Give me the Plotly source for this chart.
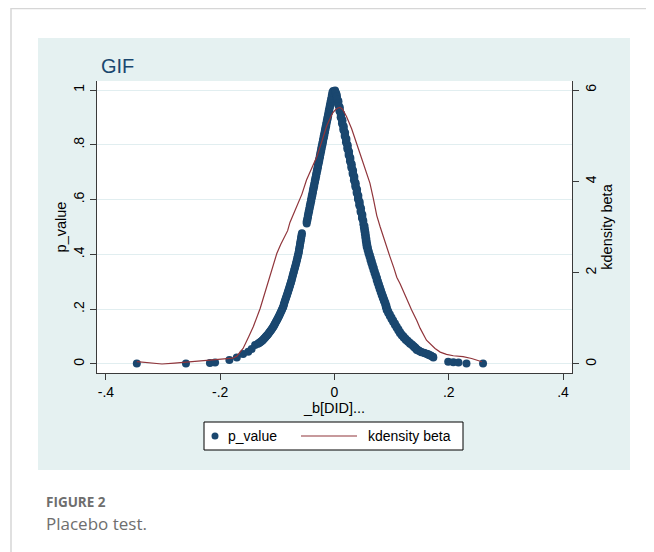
import plotly.graph_objects as go

# ---------------- data ----------------
left_tail_b = [-0.346, -0.260, -0.218, -0.209, -0.184, -0.171, -0.160, -0.151, -0.145, -0.139]
left_tail_p = [0.002, 0.002, 0.004, 0.005, 0.015, 0.024, 0.036, 0.045, 0.055, 0.069]

left_band_b = [-0.1340, -0.1310, -0.1278, -0.1252, -0.1226, -0.1200, -0.1174, -0.1148, -0.1122,
               -0.1096, -0.1070, -0.1050, -0.1028, -0.1006, -0.0984, -0.0962, -0.0940, -0.0918,
               -0.0896, -0.0884, -0.0868, -0.0850, -0.0832, -0.0815, -0.0798, -0.0782, -0.0766,
               -0.0750, -0.0735, -0.0720, -0.0704, -0.0688, -0.0672, -0.0658, -0.0644, -0.0630,
               -0.0620, -0.0610, -0.0600, -0.0590, -0.0580, -0.0570]
left_band_p = [0.074, 0.078, 0.083, 0.088, 0.094, 0.100, 0.106, 0.113, 0.120,
               0.128, 0.136, 0.144, 0.152, 0.161, 0.170, 0.179, 0.189, 0.199,
               0.209, 0.219, 0.230, 0.241, 0.252, 0.263, 0.274, 0.285, 0.296,
               0.307, 0.319, 0.331, 0.343, 0.355, 0.368, 0.380, 0.392, 0.404,
               0.416, 0.428, 0.441, 0.453, 0.465, 0.477]
left_band2_b = [-0.1325, -0.1294, -0.1265, -0.1239, -0.1213, -0.1187, -0.1161, -0.1135, -0.1109,
                -0.1083, -0.1060, -0.1039, -0.1017, -0.0995, -0.0973, -0.0951, -0.0929, -0.0907,
                -0.0890, -0.0876, -0.0859, -0.0841, -0.0824, -0.0807, -0.0790, -0.0774, -0.0758,
                -0.0743, -0.0728, -0.0712, -0.0696, -0.0680, -0.0665, -0.0651, -0.0637, -0.0625,
                -0.0615, -0.0605, -0.0595, -0.0585, -0.0575]
left_band2_p = [0.076, 0.0805, 0.0855, 0.091, 0.097, 0.103, 0.1095, 0.1165, 0.124,
                0.132, 0.140, 0.148, 0.1565, 0.1655, 0.1745, 0.184, 0.194, 0.204,
                0.214, 0.2245, 0.2355, 0.2465, 0.2575, 0.2685, 0.2795, 0.2905, 0.3015,
                0.313, 0.325, 0.337, 0.349, 0.3615, 0.374, 0.386, 0.398, 0.410,
                0.422, 0.4345, 0.447, 0.459, 0.471]

left_top_b = [-0.0486, -0.0475, -0.0464, -0.0453, -0.0442, -0.0431, -0.0420, -0.0408, -0.0398,
              -0.0386, -0.0376, -0.0364, -0.0354, -0.0342, -0.0332, -0.0320, -0.0310, -0.0298,
              -0.0288, -0.0276, -0.0266, -0.0254, -0.0244, -0.0232, -0.0222, -0.0210, -0.0200,
              -0.0188, -0.0178, -0.0166, -0.0156, -0.0144, -0.0134, -0.0122, -0.0112, -0.0100,
              -0.0090, -0.0078, -0.0068, -0.0056, -0.0046, -0.0034, -0.0023]
left_top_p = [0.513, 0.525, 0.536, 0.548, 0.559, 0.571, 0.582, 0.594, 0.605,
              0.617, 0.628, 0.640, 0.651, 0.663, 0.674, 0.686, 0.697, 0.709,
              0.720, 0.732, 0.743, 0.755, 0.766, 0.778, 0.789, 0.801, 0.812,
              0.824, 0.835, 0.847, 0.858, 0.870, 0.881, 0.893, 0.904, 0.916,
              0.927, 0.939, 0.950, 0.962, 0.973, 0.985, 0.996]
left_top2_b = [-0.0488, -0.0477, -0.0466, -0.0455, -0.0444, -0.0433, -0.0422, -0.0411, -0.0400,
               -0.0389, -0.0378, -0.0367, -0.0356, -0.0345, -0.0334, -0.0323, -0.0312, -0.0301,
               -0.0290, -0.0279, -0.0268, -0.0257, -0.0246, -0.0235, -0.0224, -0.0213, -0.0202,
               -0.0191, -0.0180, -0.0169, -0.0158, -0.0147, -0.0136, -0.0125, -0.0114, -0.0103,
               -0.0092, -0.0081, -0.0070, -0.0059, -0.0048, -0.0037]
left_top2_p = [0.519, 0.5305, 0.542, 0.5535, 0.565, 0.5765, 0.588, 0.5995, 0.611,
               0.6225, 0.634, 0.6455, 0.657, 0.6685, 0.680, 0.6915, 0.703, 0.7145,
               0.726, 0.7375, 0.749, 0.7605, 0.772, 0.7835, 0.795, 0.8065, 0.818,
               0.8295, 0.841, 0.8525, 0.864, 0.8755, 0.887, 0.8985, 0.910, 0.9215,
               0.933, 0.9445, 0.956, 0.9675, 0.979, 0.9905]

right_top_b = [0.0010, 0.0015, 0.0036, 0.0038, 0.0069, 0.0062, 0.0093, 0.0085, 0.0116, 0.0108,
               0.0139, 0.0131, 0.0162, 0.0154, 0.0186, 0.0178, 0.0209, 0.0201, 0.0232, 0.0224,
               0.0255, 0.0247, 0.0278, 0.0271, 0.0302, 0.0294, 0.0325, 0.0317, 0.0348, 0.0340,
               0.0371, 0.0364, 0.0395, 0.0387, 0.0418, 0.0410, 0.0441, 0.0433, 0.0464, 0.0456,
               0.0488, 0.0480, 0.0505]
right_top_p = [0.998, 0.993, 0.982, 0.970, 0.959, 0.947, 0.936, 0.924, 0.913, 0.901,
               0.890, 0.878, 0.867, 0.855, 0.844, 0.832, 0.821, 0.809, 0.798, 0.786,
               0.775, 0.763, 0.752, 0.740, 0.729, 0.717, 0.706, 0.694, 0.683, 0.671,
               0.660, 0.648, 0.637, 0.625, 0.614, 0.602, 0.591, 0.579, 0.568, 0.556,
               0.545, 0.533, 0.522]
right_top2_b = [0.0031, 0.0042, 0.0054, 0.0065, 0.0077, 0.0089, 0.0100, 0.0112, 0.0124, 0.0135,
                0.0147, 0.0158, 0.0170, 0.0182, 0.0193, 0.0205, 0.0216, 0.0228, 0.0240, 0.0251,
                0.0263, 0.0275, 0.0286, 0.0298, 0.0309, 0.0321, 0.0333, 0.0344, 0.0356, 0.0367,
                0.0379, 0.0391, 0.0402, 0.0414, 0.0425, 0.0437, 0.0449, 0.0460, 0.0472, 0.0484,
                0.0495]
right_top2_p = [0.9875, 0.976, 0.9645, 0.953, 0.9415, 0.930, 0.9185, 0.907, 0.8955, 0.884,
                0.8725, 0.861, 0.8495, 0.838, 0.8265, 0.815, 0.8035, 0.792, 0.7805, 0.769,
                0.7575, 0.746, 0.7345, 0.723, 0.7115, 0.700, 0.6885, 0.677, 0.6655, 0.654,
                0.6425, 0.631, 0.6195, 0.608, 0.5965, 0.585, 0.5735, 0.562, 0.5505, 0.539,
                0.5275]

right_band_b = [0.0505, 0.0514, 0.0522, 0.0531, 0.0539, 0.0547, 0.0555, 0.0563, 0.0579, 0.0595,
                0.0612, 0.0629, 0.0646, 0.0664, 0.0682, 0.0700, 0.0719, 0.0738, 0.0755, 0.0773,
                0.0790, 0.0808, 0.0826, 0.0845, 0.0864, 0.0885, 0.0898, 0.0913, 0.0940, 0.0968,
                0.0997, 0.1027, 0.1058, 0.1088, 0.1117, 0.1146, 0.1178, 0.1212, 0.1248, 0.1285,
                0.1322, 0.1360, 0.1390, 0.1415, 0.1440, 0.1480, 0.1520, 0.1580, 0.1620, 0.1650,
                0.1690, 0.1730]
right_band_p = [0.510, 0.498, 0.486, 0.474, 0.462, 0.450, 0.439, 0.428, 0.416, 0.404,
                0.392, 0.380, 0.368, 0.356, 0.344, 0.332, 0.320, 0.307, 0.296, 0.285,
                0.274, 0.263, 0.252, 0.241, 0.230, 0.219, 0.208, 0.197, 0.186, 0.175,
                0.164, 0.153, 0.142, 0.132, 0.122, 0.112, 0.104, 0.096, 0.088, 0.081,
                0.074, 0.068, 0.062, 0.057, 0.051, 0.047, 0.043, 0.039, 0.036, 0.033,
                0.029, 0.024]
right_band2_b = [0.0525, 0.0533, 0.0542, 0.0550, 0.0558, 0.0566, 0.0574, 0.0586, 0.0602, 0.0619,
                 0.0636, 0.0653, 0.0670, 0.0688, 0.0706, 0.0725, 0.0744, 0.0762, 0.0779, 0.0797,
                 0.0814, 0.0832, 0.0851, 0.0870, 0.0890, 0.0907, 0.0921, 0.0942, 0.0969, 0.0998,
                 0.1027, 0.1058, 0.1088, 0.1118, 0.1147, 0.1177, 0.1210, 0.1245, 0.1282, 0.1319,
                 0.1356, 0.1390, 0.1418, 0.1443, 0.1475, 0.1515, 0.1565, 0.1615, 0.1650, 0.1685,
                 0.1725]
right_band2_p = [0.504, 0.492, 0.480, 0.468, 0.456, 0.4445, 0.4335, 0.422, 0.410, 0.398,
                 0.386, 0.374, 0.362, 0.350, 0.338, 0.326, 0.3135, 0.3015, 0.2905, 0.2795,
                 0.2685, 0.2575, 0.2465, 0.2355, 0.2245, 0.2135, 0.2025, 0.1915, 0.1805, 0.1695,
                 0.1585, 0.1475, 0.137, 0.127, 0.117, 0.108, 0.100, 0.092, 0.0845, 0.0775,
                 0.071, 0.065, 0.0595, 0.054, 0.049, 0.045, 0.041, 0.0375, 0.0345, 0.031,
                 0.0265]

right_tail_b = [0.199, 0.208, 0.217, 0.231, 0.260]
right_tail_p = [0.008, 0.006, 0.005, 0.002, 0.002]

kd_x = [-0.346, -0.325, -0.302, -0.280, -0.260, -0.235, -0.212, -0.190, -0.178, -0.171, -0.165,
        -0.160, -0.150, -0.142, -0.130, -0.119, -0.110, -0.101, -0.094, -0.088, -0.082, -0.078,
        -0.072, -0.066, -0.057, -0.049, -0.040, -0.031, -0.022, -0.014, -0.007, -0.003, 0.001,
        0.005, 0.0096, 0.014, 0.021, 0.030, 0.0446, 0.053, 0.062, 0.068, 0.074, 0.080, 0.091,
        0.097, 0.104, 0.109, 0.115, 0.120, 0.126, 0.135, 0.144, 0.150, 0.161, 0.167, 0.176,
        0.185, 0.196, 0.208, 0.225, 0.240, 0.258]
kd_y = [0.05, 0.02, 0.00, 0.02, 0.04, 0.06, 0.08, 0.11, 0.13, 0.17, 0.25,
        0.34, 0.60, 0.82, 1.22, 1.69, 2.05, 2.42, 2.62, 2.76, 2.92, 3.10,
        3.28, 3.44, 3.72, 4.03, 4.28, 4.54, 4.88, 5.20, 5.40, 5.50, 5.56,
        5.60, 5.62, 5.58, 5.42, 5.15, 4.61, 4.30, 3.96, 3.62, 3.25, 3.00, 2.55,
        2.35, 2.10, 1.90, 1.75, 1.60, 1.42, 1.18, 0.95, 0.78, 0.52, 0.45, 0.34,
        0.26, 0.21, 0.18, 0.16, 0.12, 0.05]

x_ticks = [-0.4, -0.2, 0, 0.2, 0.4]
x_labels = ["-.4", "-.2", "0", ".2", ".4"]
y_ticks = [0, 0.2, 0.4, 0.6, 0.8, 1]
y_labels = ["0", ".2", ".4", ".6", ".8", "1"]
y2_ticks = [0, 2, 4, 6]
y2_labels = ["0", "2", "4", "6"]

# ---------------- styling ----------------
NAVY = "#1a476f"
MAROON = "#90353b"
PANEL = "#e5f1f1"
GRID = "#e1eef0"
AXIS = "#3a3a3a"
FONT = "Liberation Sans, Arial, sans-serif"
CAPFONT = "Open Sans, sans-serif"

OFF = 8                      # page body margin in the browser
SW, SH = 654, 552            # screen size
W, H = SW - OFF, SH - OFF    # figure size
L, R, T, B = 97, 572, 81, 373   # plot area in screen pixels
pw, ph = R - L, B - T


def px(x):
    return (x - L) / pw


def py(y):
    return (B - y) / ph


beta = (left_tail_b + left_band_b + left_band2_b + left_top_b + left_top2_b
        + right_top_b + right_top2_b + right_band_b + right_band2_b + right_tail_b)
pval = (left_tail_p + left_band_p + left_band2_p + left_top_p + left_top2_p
        + right_top_p + right_top2_p + right_band_p + right_band2_p + right_tail_p)

fig = go.Figure()
fig.add_trace(go.Scatter(x=beta, y=pval, mode="markers", name="p_value",
                         marker=dict(color=NAVY, size=8, line=dict(width=0)),
                         showlegend=False))
fig.add_trace(go.Scatter(x=kd_x, y=kd_y, mode="lines", name="kdensity beta", yaxis="y2",
                         line=dict(color=MAROON, width=1.2), showlegend=False))

shapes = [
    # outer page border
    dict(type="line", xref="paper", yref="paper", x0=px(11), x1=px(654), y0=py(8.5), y1=py(8.5),
         line=dict(color="#d6d6d6", width=1.5), layer="below"),
    dict(type="line", xref="paper", yref="paper", x0=px(11), x1=px(11), y0=py(8), y1=py(552),
         line=dict(color="#d6d6d6", width=1.5), layer="below"),
    # graph region
    dict(type="rect", xref="paper", yref="paper", x0=px(38), x1=px(630), y0=py(470), y1=py(38),
         fillcolor=PANEL, line=dict(width=0), layer="below"),
    # plot region
    dict(type="rect", xref="paper", yref="paper", x0=0, x1=1, y0=0, y1=1,
         fillcolor="white", line=dict(width=0), layer="below"),
    # legend box
    dict(type="rect", xref="paper", yref="paper", x0=px(204), x1=px(463), y0=py(450), y1=py(422),
         fillcolor="white", line=dict(color="black", width=1)),
    # legend marker
    dict(type="circle", xref="paper", yref="paper", x0=px(211.5), x1=px(218.5),
         y0=py(439.5), y1=py(432.5), fillcolor=NAVY, line=dict(width=0)),
    # legend line
    dict(type="line", xref="paper", yref="paper", x0=px(301), x1=px(357), y0=py(436), y1=py(436),
         line=dict(color=MAROON, width=1.2)),
]

annotations = [
    dict(text="GIF", xref="paper", yref="paper", x=px(99), y=py(66), xanchor="left",
         yanchor="middle", showarrow=False, font=dict(family=FONT, size=20, color=NAVY)),
    dict(text="p_value", xref="paper", yref="paper", x=px(226), y=py(436), xanchor="left",
         yanchor="middle", showarrow=False, font=dict(family=FONT, size=14, color="black")),
    dict(text="kdensity beta", xref="paper", yref="paper", x=px(366), y=py(436), xanchor="left",
         yanchor="middle", showarrow=False, font=dict(family=FONT, size=14, color="black")),
    dict(text="<b>FIGURE 2</b>", xref="paper", yref="paper", x=px(44), y=py(501.5), xanchor="left",
         yanchor="middle", showarrow=False,
         font=dict(family=CAPFONT, size=13.5, color="#6e6e6e")),
    dict(text="Placebo test.", xref="paper", yref="paper", x=px(44), y=py(523), xanchor="left",
         yanchor="middle", showarrow=False,
         font=dict(family=CAPFONT, size=17, color="#6e6e6e")),
]

fig.update_layout(
    width=W, height=H,
    margin=dict(l=L - OFF, r=SW - R, t=T - OFF, b=SH - B, pad=0),
    paper_bgcolor="white", plot_bgcolor="white",
    font=dict(family=FONT, size=14, color="black"),
    showlegend=False,
    shapes=shapes, annotations=annotations,
    xaxis=dict(range=[-0.4157, 0.4157], tickvals=x_ticks, ticktext=x_labels,
               showgrid=False, zeroline=False, showline=True, linecolor=AXIS, linewidth=1,
               ticks="outside", ticklen=6, tickcolor=AXIS, tickfont=dict(size=14),
               title=dict(text="_b[DID]...", font=dict(size=14.5), standoff=0)),
    yaxis=dict(range=[-0.0329, 1.0329], tickvals=y_ticks, ticktext=y_labels, tickangle=-90,
               showgrid=True, gridcolor=GRID, gridwidth=1, zeroline=False, showline=True,
               linecolor=AXIS, linewidth=1, ticks="outside", ticklen=6, tickcolor=AXIS,
               tickfont=dict(size=14),
               title=dict(text="p_value", font=dict(size=14.5), standoff=1)),
    yaxis2=dict(range=[-0.1974, 6.1974], tickvals=y2_ticks, ticktext=y2_labels, tickangle=-90,
                overlaying="y", side="right", showgrid=False, zeroline=False, showline=True,
                linecolor=AXIS, linewidth=1, ticks="outside", ticklen=6, tickcolor=AXIS,
                tickfont=dict(size=14),
                title=dict(text="kdensity beta", font=dict(size=14.5), standoff=0)),
)

fig.write_html("out.html")
